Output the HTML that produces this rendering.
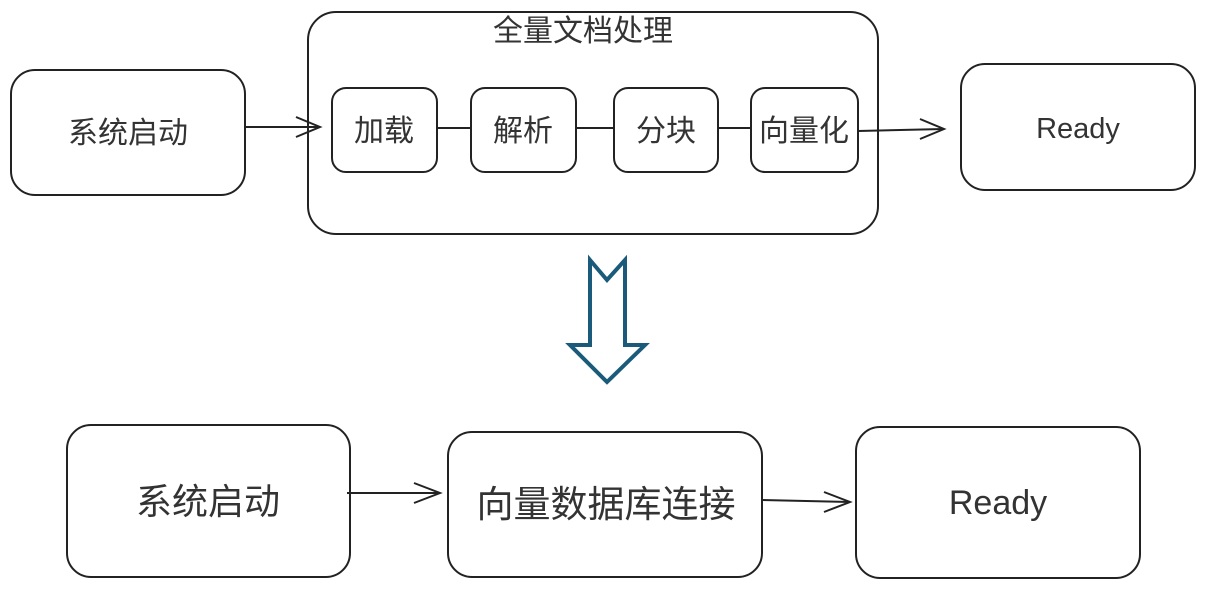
<!DOCTYPE html>
<html><head><meta charset="utf-8"><style>
body{margin:0;width:1205px;height:591px;background:#fff;overflow:hidden}
</style></head><body>
<svg width="1205" height="591" xmlns="http://www.w3.org/2000/svg" style="font-family:'Liberation Sans','Noto Sans CJK SC',sans-serif">
<g fill="#fff" stroke="#222" stroke-width="2">
<rect x="11" y="70" width="234" height="125" rx="24"/>
<rect x="308" y="12" width="570" height="222" rx="28"/>
<rect x="332" y="88" width="105" height="84" rx="14"/>
<rect x="471" y="88" width="105" height="84" rx="14"/>
<rect x="614" y="88" width="104" height="84" rx="14"/>
<rect x="751" y="88" width="107" height="84" rx="14"/>
<rect x="961" y="64" width="234" height="126" rx="24"/>
<rect x="67" y="425" width="283" height="152" rx="24"/>
<rect x="448" y="432" width="314" height="145" rx="24"/>
<rect x="856" y="427" width="284" height="151" rx="24"/>
</g>
<g stroke="#222" stroke-width="2" fill="none">
<line x1="245" y1="127" x2="320" y2="127"/><polyline points="296,117 320,127 296,137"/>
<line x1="437" y1="128" x2="471" y2="128"/>
<line x1="576" y1="128" x2="614" y2="128"/>
<line x1="718" y1="128" x2="751" y2="128"/>
<line x1="858" y1="131" x2="944" y2="129"/><polyline points="920,119 944,129 920,139"/>
<line x1="347" y1="493" x2="440" y2="493"/><polyline points="414,483 440,493 414,503"/>
<line x1="762" y1="500" x2="850" y2="502"/><polyline points="824,492 850,502 824,512"/>
</g>
<polygon points="590,260 607,280 625,260 625,345 645,345 607,382 570,345 590,345" fill="#fff" stroke="#1a5a7a" stroke-width="4" stroke-linejoin="miter"/>
<g fill="#333" text-anchor="middle">
<text x="583" y="41" font-size="30">全量文档处理</text>
<text x="128" y="143" font-size="30">系统启动</text>
<text x="384" y="141" font-size="30">加载</text>
<text x="523" y="141" font-size="30">解析</text>
<text x="666" y="141" font-size="30">分块</text>
<text x="804" y="141" font-size="30">向量化</text>
<text x="1078" y="138" font-size="29">Ready</text>
<text x="208" y="514" font-size="36">系统启动</text>
<text x="606" y="517" font-size="37">向量数据库连接</text>
<text x="998" y="514" font-size="34">Ready</text>
</g>
</svg>
</body></html>
